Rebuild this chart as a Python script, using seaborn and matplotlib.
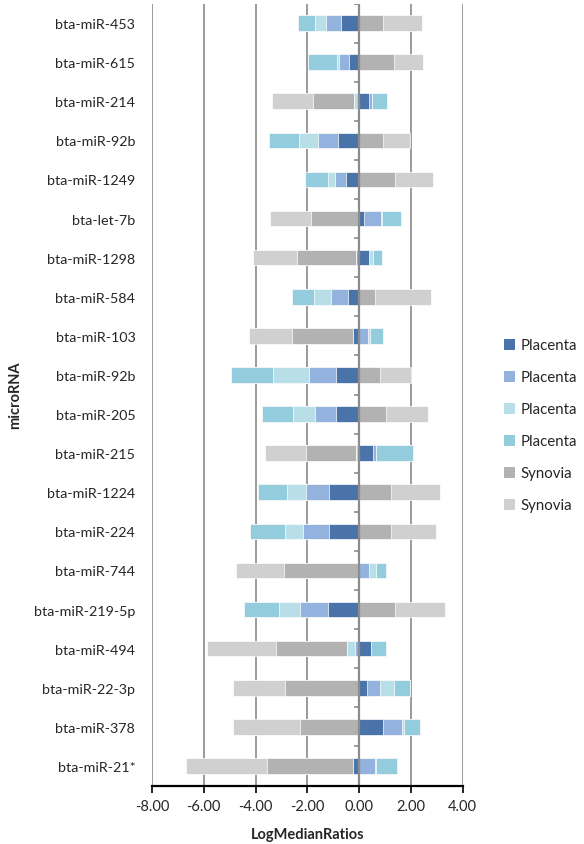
import numpy as np
import pandas as pd
import matplotlib
matplotlib.use("Agg")
import matplotlib.pyplot as plt
from matplotlib.patches import Patch
import seaborn as sns

# microRNAs, listed top to bottom
mirnas = ["bta-miR-453", "bta-miR-615", "bta-miR-214", "bta-miR-92b", "bta-miR-1249",
          "bta-let-7b", "bta-miR-1298", "bta-miR-584", "bta-miR-103", "bta-miR-92b",
          "bta-miR-205", "bta-miR-215", "bta-miR-1224", "bta-miR-224", "bta-miR-744",
          "bta-miR-219-5p", "bta-miR-494", "bta-miR-22-3p", "bta-miR-378", "bta-miR-21*"]

# log median ratios per sample series
placenta_1 = [-0.70, -0.41, 0.40, -0.80, -0.49, 0.17, 0.37, -0.43, -0.22, -0.88,
              -0.91, 0.52, -1.16, -1.16, -0.06, -1.22, 0.44, 0.32, 0.94, -0.22]
placenta_2 = [-0.57, -0.35, 0.10, -0.77, -0.43, 0.67, -0.12, -0.67, 0.35, -1.07,
              -0.81, 0.13, -0.89, -0.99, 0.40, -1.07, -0.17, 0.50, 0.71, 0.61]
placenta_3 = [-0.44, -0.10, -0.21, -0.77, -0.30, 0.05, 0.17, -0.63, 0.06, -1.39,
              -0.84, -0.14, -0.72, -0.72, 0.27, -0.79, -0.31, 0.52, 0.10, 0.05]
placenta_4 = [-0.67, -1.12, 0.57, -1.16, -0.88, 0.72, 0.34, -0.85, 0.52, -1.62,
              -1.21, 1.43, -1.13, -1.33, 0.35, -1.38, 0.61, 0.62, 0.62, 0.81]
synovia_1 = [0.91, 1.33, -1.56, 0.94, 1.40, -1.87, -2.28, 0.61, -2.37, 0.82,
             1.03, -1.90, 1.22, 1.25, -2.86, 1.38, -2.72, -2.87, -2.27, -3.34]
synovia_2 = [1.52, 1.15, -1.58, 1.03, 1.44, -1.59, -1.71, 2.15, -1.65, 1.19,
             1.64, -1.61, 1.89, 1.73, -1.83, 1.95, -2.68, -2.00, -2.59, -3.12]

series_names = ["Placenta", "Placenta", "Placenta", "Placenta", "Synovia", "Synovia"]
series_values = [placenta_1, placenta_2, placenta_3, placenta_4, synovia_1, synovia_2]
colors = ["#4A74A9", "#93B2DD", "#B8DFE8", "#93CDDD", "#B1B2B1", "#CFD0CF"]

xticks = [-8, -6, -4, -2, 0, 2, 4]

sns.set_theme(style="white")
plt.rcParams["font.family"] = ["Lato", "DejaVu Sans"]
plt.rcParams["axes.unicode_minus"] = False
text_color = "#262626"

fig = plt.figure(figsize=(5.84, 8.45), dpi=100)
ax = fig.add_axes([152 / 584, 1 - 786.5 / 845, (462.7 - 152) / 584, (786.5 - 4.5) / 845])

vals = np.array(series_values)
pos_cum = np.cumsum(np.clip(vals, 0, None), axis=0)
neg_cum = np.cumsum(np.clip(vals, None, 0), axis=0)
rows = np.arange(len(mirnas))

# Diverging stack: positives and negatives accumulate separately;
# draw outermost totals first so the inner series sit on top.
for k in range(len(series_values) - 1, -1, -1):
    for cum in (pos_cum[k], neg_cum[k]):
        df = pd.DataFrame({"row": rows, "value": cum})
        sns.barplot(data=df, x="value", y="row", orient="h", color=colors[k],
                    saturation=1, width=0.4, edgecolor="white", linewidth=0.5,
                    ax=ax, zorder=3)

ax.set_xlim(-8, 4)
ax.set_ylim(len(mirnas) - 0.5, -0.5)

# vertical gridlines
for xt in xticks:
    if xt != 0:
        ax.axvline(xt, color="#9B9B9B", lw=1.4, zorder=1)

# value axis crossing at zero, with category tick marks pointing left
ax.axvline(0, color="#8C8C8C", lw=1.6, zorder=6)
ax.hlines(np.arange(-0.5, len(mirnas), 1.0)[:-1], -0.2, 0, color="#8C8C8C",
          lw=1.2, zorder=6)

ax.set_xticks(xticks)
ax.set_xticklabels([f"{t:.2f}" for t in xticks], fontsize=10.5, color=text_color)
ax.set_yticks(rows)
ax.set_yticklabels(mirnas, fontsize=10.3, color=text_color)
ax.tick_params(axis="y", length=0, pad=12)
ax.tick_params(axis="x", length=5, width=1.2, color="black", direction="out",
               bottom=True, pad=5)

for side in ("top", "right", "left"):
    ax.spines[side].set_visible(False)
ax.spines["bottom"].set_color("black")
ax.spines["bottom"].set_linewidth(1.6)
ax.spines["bottom"].set_zorder(7)

ax.set_xlabel("LogMedianRatios", fontsize=10.5, fontweight="bold", color=text_color,
              labelpad=10)
ax.set_ylabel("")
fig.text(15 / 584, 1 - 395 / 845, "microRNA", rotation=90, fontsize=10.5,
         fontweight="bold", color=text_color, ha="center", va="center")

handles = [Patch(facecolor=c, edgecolor="none") for c in colors]
fig.legend(handles, series_names, loc="center left",
           bbox_to_anchor=(504 / 584, 1 - 426.5 / 845), frameon=False,
           fontsize=10.8, handlelength=0.75, handleheight=0.75,
           handletextpad=0.35, labelspacing=1.2, borderpad=0, borderaxespad=0,
           labelcolor=text_color)

fig.savefig("out.png", dpi=100)
